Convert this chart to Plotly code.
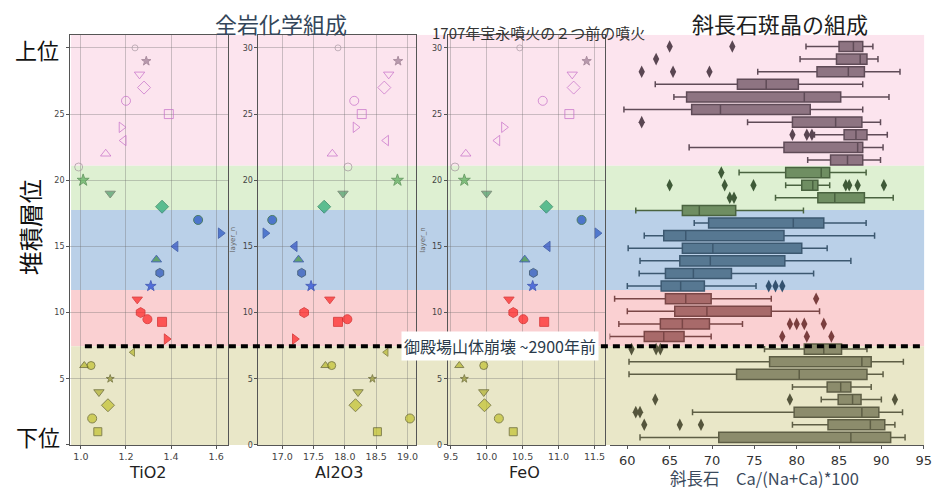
import plotly.graph_objects as go

W, H = 941, 494
FONT = "Noto Sans CJK JP"
LATIN = "DejaVu Sans"

# ---------------- whole-rock chemistry (layer vs oxide) ----------------
layers = [30, 29, 28, 27, 26, 25, 24, 23, 22, 21, 20, 19, 18, 17, 16, 15, 14, 13, 12,
          11, 10, 9.5, 9.3, 8, 7, 6, 6, 5, 4, 3, 2, 1]
tio2 = [1.24, 1.29, 1.26, 1.28, 1.20, 1.39, 1.18, 1.19, 1.11, 0.99, 1.01, 1.13, 1.36,
        1.52, 1.62, 1.42, 1.335, 1.35, 1.31, 1.25, 1.265, 1.295, 1.36, 1.38, 1.23,
        1.015, 1.045, 1.13, 1.08, 1.12, 1.05, 1.075]
al2o3 = [17.89, 18.85, 18.70, 18.63, 18.15, 18.27, 18.17, 18.66, 17.80, 18.05, 18.84,
         17.97, 17.67, 16.84, 16.73, 17.20, 17.26, 17.31, 17.46, 17.76, 17.35, 18.04,
         17.89, 17.20, 18.66, 17.69, 17.79, 18.44, 18.21, 18.17, 19.04, 18.52]
feo = [10.46, 11.39, 11.19, 11.21, 10.78, 11.15, 10.24, 10.15, 9.71, 9.56, 9.69, 10.0,
       10.83, 11.32, 11.54, 10.85, 10.53, 10.65, 10.64, 10.31, 10.37, 10.51, 10.80,
       10.75, 10.2, 9.62, 9.96, 9.69, 9.96, 9.97, 10.17, 10.37]
layer_ticks = [0, 5, 10, 15, 20, 25, 30]
layer_ticktext_left = ['', '5', '10', '15', '20', '25', '']

# marker styles (per point)
symbols = ['circle-open', 'star', 'triangle-down-open', 'diamond-open', 'circle-open',
           'square-open', 'triangle-right-open', 'triangle-left-open', 'triangle-up-open',
           'circle-open', 'star', 'triangle-down', 'diamond', 'circle', 'triangle-right',
           'triangle-left', 'triangle-up', 'hexagon', 'star', 'triangle-down', 'hexagon',
           'circle', 'square', 'triangle-right', 'triangle-left', 'triangle-up', 'circle',
           'star', 'triangle-down', 'diamond', 'circle', 'square']
sizes = [6, 7, 9, 10, 9, 9, 9, 9, 9, 8, 9, 9, 10, 9, 9, 9, 9, 9, 8, 9, 10, 9, 9, 9,
         7, 8, 8, 6, 9, 10, 9, 8]
PINK = '#C56CC8'
fills = ['#A99AA4', '#9C7A92', PINK, PINK, PINK, PINK, PINK, PINK, PINK, '#A3949C',
         '#5CAE5C', '#4E9A6A', '#25A874', '#1F4FC0', '#2454C4', '#3150C4', '#3A8E3A',
         '#2A52B8', '#2446D6', '#FF2020', '#FF2020', '#FF2020', '#FF2020', '#FF2020',
         '#B5B62A', '#B5B62A', '#C2C22E', '#9A9A30', '#B0B02C', '#C2C22E', '#C2C22E',
         '#C2C22E']
edges = ['#A99AA4', '#8A6A80', PINK, PINK, PINK, PINK, PINK, PINK, PINK, '#A3949C',
         '#3F7F3F', '#5A6A5A', '#1E7A55', '#1E5A2E', '#1E3E9A', '#1E3E9A', '#1E3EA0',
         '#1E3A5A', '#1E36A8', '#D01010', '#D01010', '#D01010', '#D01010', '#D01010',
         '#6A6A20', '#5A5A20', '#5A5A20', '#5A5A20', '#5A5A20', '#5A5A20', '#5A5A20',
         '#5A5A20']

# ---------------- plagioclase boxplots (top row = uppermost) ----------------
box_low = [81.1, 80.4, 75.4, 63.3, 65.5, 59.6, 74.2, 82.1, 67.3, 81.3, 73.2, 78.7, 77.5,
           61.0, 67.9, 62.0, 60.1, 61.5, 61.4, 60.0, 58.5, 60.0, 59.0, 57.9, 76.2, 60.2,
           60.2, 79.5, 82.9, 67.7, 79.5, 61.5]
box_q1 = [85.0, 84.7, 82.4, 73.0, 67.0, 67.6, 79.5, 85.6, 78.5, 84.0, 78.7, 80.6, 82.5,
          66.5, 69.6, 64.3, 66.5, 66.2, 64.5, 64.0, 64.5, 65.6, 63.9, 62.0, 80.9, 76.8,
          72.9, 83.6, 84.9, 79.7, 83.7, 70.8]
box_med = [86.7, 87.5, 86.1, 76.4, 80.9, 71.0, 84.6, 87.0, 87.2, 86.0, 82.9, 81.9, 84.5,
           68.5, 79.6, 66.9, 70.1, 69.8, 67.8, 66.3, 66.9, 69.4, 66.5, 64.3, 83.2, 87.7,
           80.3, 85.2, 86.6, 87.7, 88.7, 86.4]
box_q3 = [87.8, 88.3, 88.0, 80.2, 85.2, 81.6, 87.7, 88.3, 87.8, 87.8, 83.9, 82.5, 88.0,
          72.8, 83.2, 78.5, 80.6, 78.6, 72.3, 69.1, 69.9, 77.0, 69.7, 66.7, 85.3, 88.8,
          88.3, 86.4, 87.6, 89.7, 90.4, 91.1]
box_high = [89.0, 89.6, 92.2, 87.8, 90.9, 87.8, 89.9, 90.7, 90.2, 89.9, 88.2, 83.9, 91.4,
            80.8, 88.2, 89.2, 83.6, 86.4, 82.0, 75.2, 77.0, 82.7, 73.6, 69.9, 88.3, 92.6,
            90.2, 88.8, 90.0, 92.5, 91.6, 92.8]
box_group = ['pink'] * 10 + ['green'] * 4 + ['blue'] * 6 + ['red'] * 4 + ['olive'] * 8
outlier_box = [0, 0, 1, 2, 2, 2, 6, 7, 7, 7, 10, 11, 11, 11, 11, 11, 11, 11, 12, 12,
               19, 19, 19, 20, 22, 22, 22, 22, 23, 23, 23, 24, 24, 24, 28, 28, 28,
               29, 29, 30, 30, 30]
outlier_val = [65.0, 72.4, 63.4, 61.7, 65.4, 69.7, 61.7, 79.5, 81.2, 81.8, 71.1, 65.0,
               71.5, 74.9, 85.8, 86.2, 87.2, 90.3, 72.1, 72.6, 76.7, 77.5, 78.3, 82.3,
               79.2, 80.0, 80.9, 83.2, 78.3, 81.2, 84.1, 60.5, 63.4, 63.9, 63.3, 79.2,
               91.6, 61.0, 61.5, 62.0, 66.2, 68.7]

group_style = {
    'pink':  ('#8E7482', '#5F4B57', '#5A4652'),
    'green': ('#6F8E62', '#4A6340', '#3F5A38'),
    'blue':  ('#577892', '#3C5870', '#335270'),
    'red':   ('#A86A6A', '#7A4646', '#7A3E3E'),
    'olive': ('#8C8C6C', '#5E5E45', '#55553C'),
}

# background layer bands (in layer units): (bottom, top, colour)
bands = [(21.1, 31.0, 'rgb(252,228,238)'), (17.75, 21.1, 'rgb(222,240,210)'),
         (11.7, 17.75, 'rgb(186,208,232)'), (7.45, 11.7, 'rgb(250,208,210)'),
         (0.0, 7.45, 'rgb(233,231,200)')]
collapse_layer = 7.45

fig = go.Figure()

for i, xs in enumerate([tio2, al2o3, feo]):
    ax = '' if i == 0 else str(i + 1)
    fig.add_trace(go.Scatter(
        x=xs, y=layers, mode='markers', xaxis='x' + ax, yaxis='y' + ax,
        marker=dict(symbol=symbols, size=sizes, color=fills,
                    line=dict(color=edges, width=1)),
        showlegend=False, hoverinfo='skip'))

n_box = len(box_med)
for g in ['pink', 'green', 'blue', 'red', 'olive']:
    idx = [k for k in range(n_box) if box_group[k] == g]
    fc, lc, oc = group_style[g]
    fig.add_trace(go.Box(
        orientation='h', y=idx,
        q1=[box_q1[k] for k in idx], median=[box_med[k] for k in idx],
        q3=[box_q3[k] for k in idx], lowerfence=[box_low[k] for k in idx],
        upperfence=[box_high[k] for k in idx],
        xaxis='x4', yaxis='y4', fillcolor=fc, line=dict(color=lc, width=1.5),
        width=0.8, whiskerwidth=0.6, boxpoints=False, showlegend=False,
        hoverinfo='skip'))
    oi = [j for j in range(len(outlier_box)) if box_group[outlier_box[j]] == g]
    if oi:
        fig.add_trace(go.Scatter(
            x=[outlier_val[j] for j in oi], y=[outlier_box[j] for j in oi],
            mode='markers', xaxis='x4', yaxis='y4',
            marker=dict(symbol='diamond-tall', size=9, color=oc),
            showlegend=False, hoverinfo='skip'))

def px(x):
    return x / W

def py(y):
    return 1 - y / H

ydom = [py(449.5), py(35)]
frame = dict(showline=True, linecolor='#555555', linewidth=1, mirror=True,
             ticks='outside', ticklen=3, tickcolor='#555555',
             showgrid=True, gridcolor='rgba(110,110,110,0.35)', gridwidth=1,
             zeroline=False)

xdoms = [(66, 226), (257, 417), (449, 608)]
xranges = [[0.952, 1.652], [16.62, 19.14], [9.46, 11.64]]
xticks = [[1.0, 1.2, 1.4, 1.6], [17.0, 17.5, 18.0, 18.5, 19.0],
          [9.5, 10.0, 10.5, 11.0, 11.5]]
layout = {}
for i in range(3):
    ax = '' if i == 0 else str(i + 1)
    layout['xaxis' + ax] = dict(frame, domain=[px(xdoms[i][0]), px(xdoms[i][1])],
                                range=xranges[i], tickvals=xticks[i], tickformat='.1f',
                                tickfont=dict(family=LATIN, size=9.5, color='#444444'),
                                anchor='y' + ax)
    layout['yaxis' + ax] = dict(frame, domain=ydom, range=[0, 31],
                                tickvals=layer_ticks,
                                ticktext=(layer_ticktext_left if i == 0
                                          else [str(t) for t in layer_ticks]),
                                tickfont=dict(family=LATIN, size=8, color='#444444'),
                                anchor='x' + ax)

layout['xaxis4'] = dict(domain=[px(613), px(932)], range=[57.9, 95.05], anchor='y4',
                        showline=True, linecolor='#555555', linewidth=1, mirror=False,
                        ticks='outside', ticklen=3, tickcolor='#555555',
                        tickvals=[60, 65, 70, 75, 80, 85, 90, 95],
                        tickfont=dict(family=LATIN, size=13, color='#333333'),
                        showgrid=False, zeroline=False)
layout['yaxis4'] = dict(domain=ydom, range=[31.6, -0.94], anchor='x4', visible=False)

shapes = []
for b0, b1, c in bands:
    shapes.append(dict(type='rect', xref='paper', yref='y', x0=px(67), x1=px(932),
                       y0=b0, y1=b1, fillcolor=c, line=dict(width=0), layer='below'))
shapes.append(dict(type='line', xref='paper', yref='y', x0=px(81), x1=px(932),
                   y0=collapse_layer, y1=collapse_layer,
                   line=dict(color='black', width=4, dash='7px,5px'), layer='above'))

def ann(text, x, y, size, color='#222222', angle=0, family=FONT, **kw):
    d = dict(text=text, x=px(x), y=py(y), xref='paper', yref='paper',
             showarrow=False, xanchor='center', yanchor='middle', textangle=angle,
             font=dict(family=family, size=size, color=color))
    d.update(kw)
    return d

annotations = [
    ann('全岩化学組成', 280, 23, 22, '#34465A'),
    ann('1707年宝永噴火の２つ前の噴火', 541, 33, 15, '#333333'),
    ann('斜長石斑晶の組成', 786, 23, 22, '#1E1E1E'),
    ann('上位', 32, 49, 22, '#111111'),
    ann('堆積層位', 25, 230, 24, '#111111', angle=-90),
    ann('下位', 33, 440, 22, '#111111'),
    ann('TiO2', 145, 477, 16, '#222222', family=LATIN),
    ann('Al2O3', 339, 477, 16, '#222222', family=LATIN),
    ann('FeO', 527, 477, 16, '#222222', family=LATIN),
    ann('斜長石　Ca/(Na+Ca)*100', 770, 483, 16.5, '#3B4A5C'),
    ann('layer_n', 231, 242, 7, '#666666', angle=-90, family=LATIN),
    ann('layer_n', 423, 242, 7, '#666666', angle=-90, family=LATIN),
    ann('御殿場山体崩壊 ~2900年前', 502, 350, 16, '#2A3A4A',
        bgcolor='white', borderpad=2),
]

fig.update_layout(width=W, height=H, margin=dict(l=0, r=0, t=0, b=0),
                  paper_bgcolor='white', plot_bgcolor='rgba(0,0,0,0)',
                  font=dict(family=FONT), shapes=shapes, annotations=annotations,
                  **layout)

fig.write_html("out.html", config={'displayModeBar': False},
               post_script="document.body.style.margin='0';"
                           "document.body.style.overflow='hidden';")
